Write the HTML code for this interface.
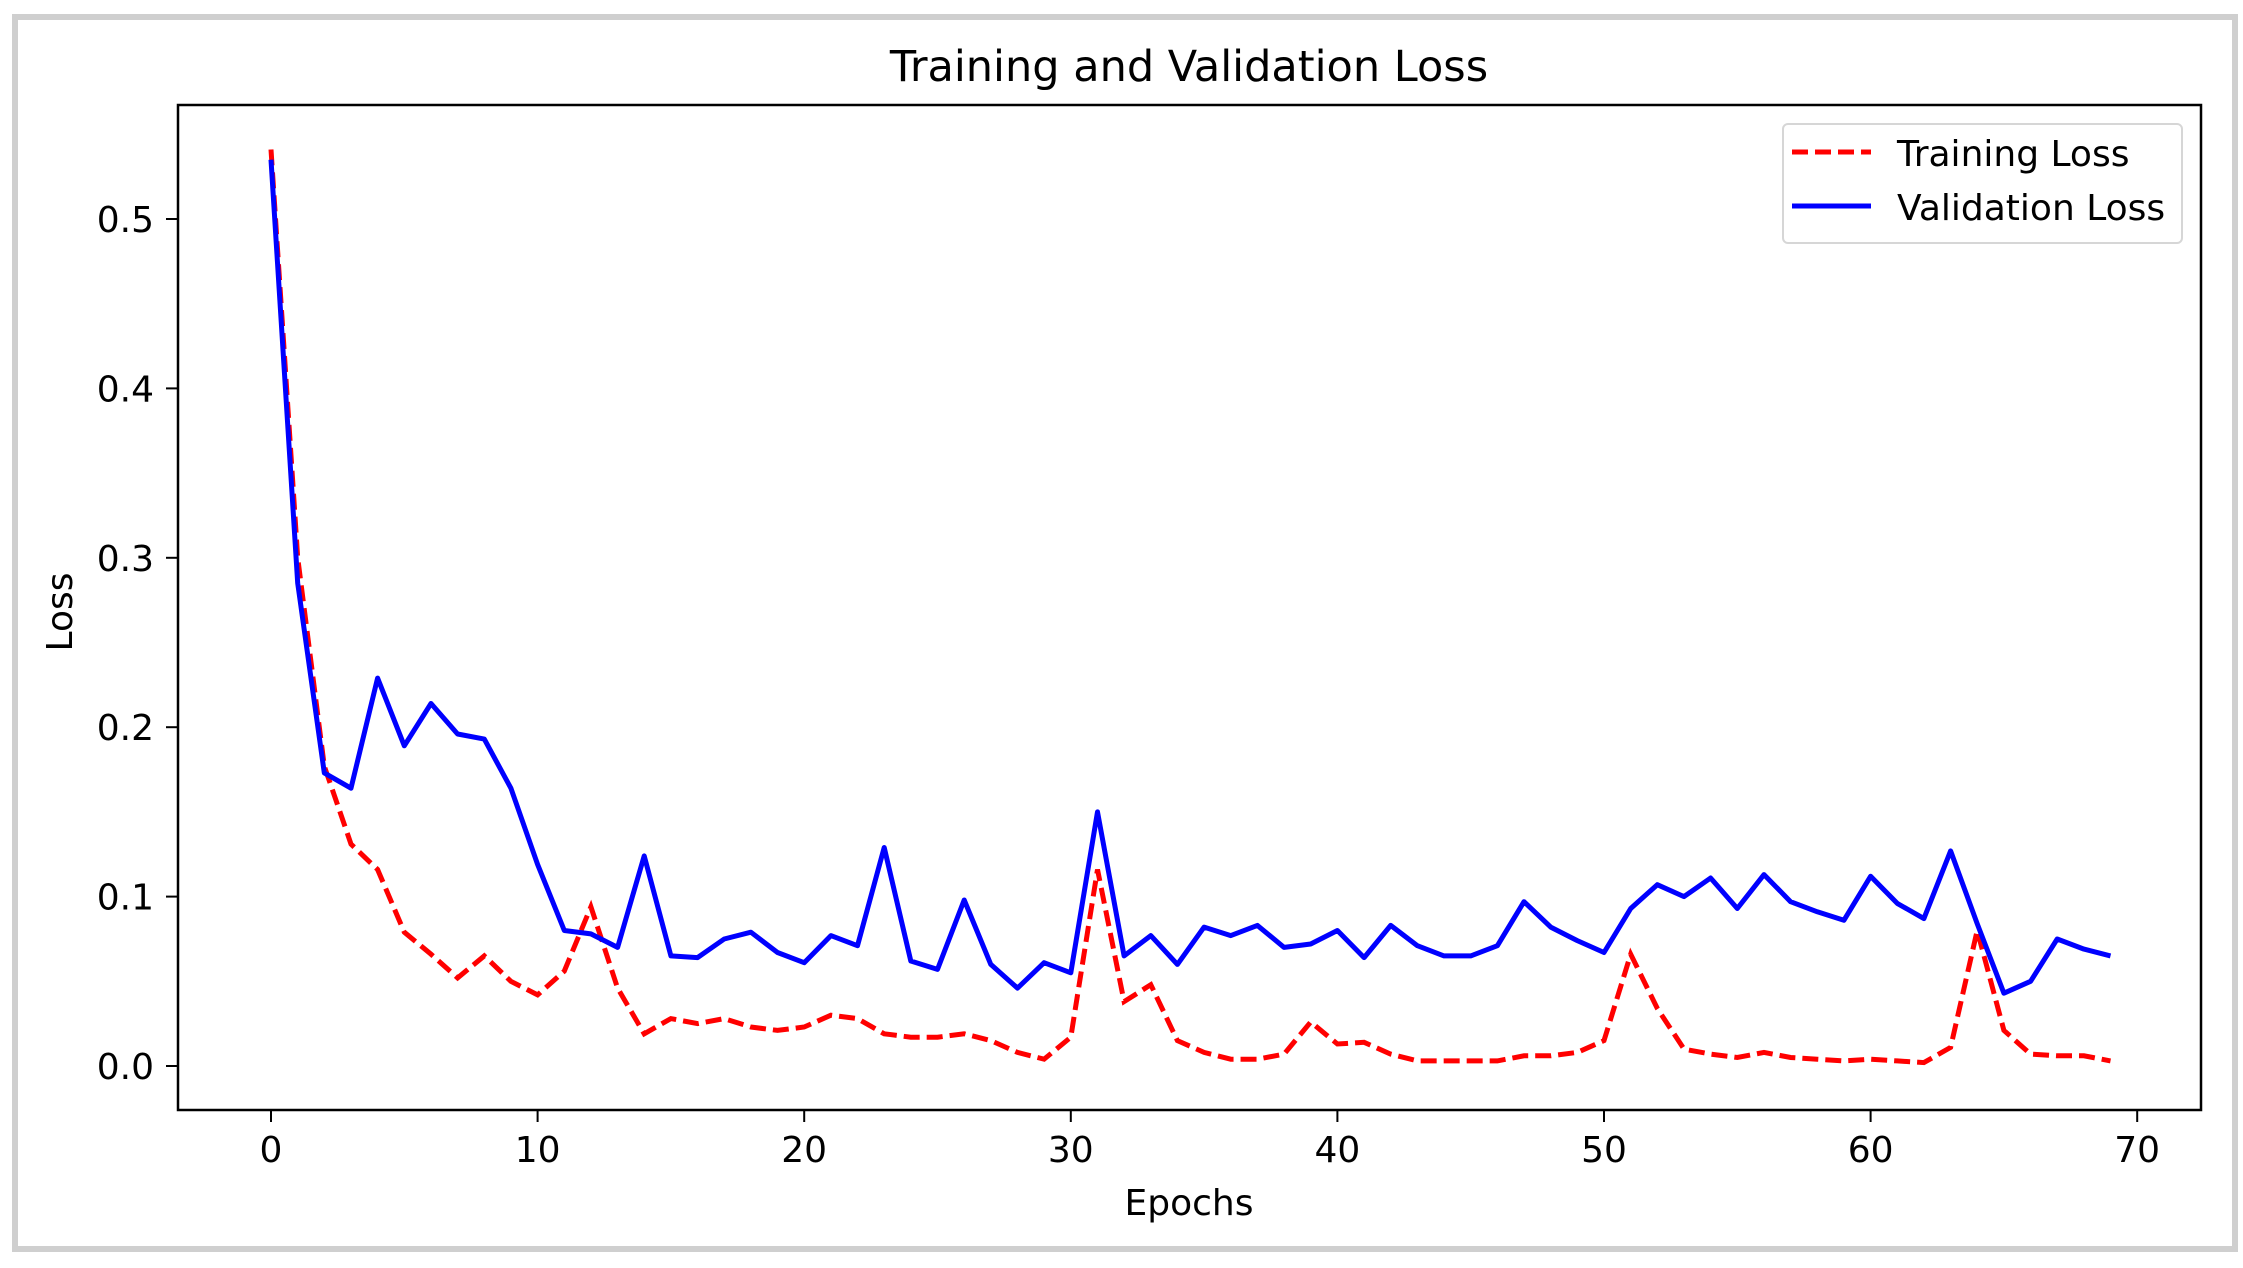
<!DOCTYPE html>
<html><head><meta charset="utf-8"><style>
html,body{margin:0;padding:0;background:#fff}
svg{display:block}
text{font-family:"DejaVu Sans","Liberation Sans",sans-serif;fill:#000}
</style></head><body>
<svg id="chart" width="2243" height="1268" viewBox="0 0 2243 1268" xmlns="http://www.w3.org/2000/svg">
<rect x="15" y="17" width="2220" height="1232" fill="#fff" stroke="#cfcfcf" stroke-width="6"/>
<text x="1189" y="81" font-size="43" text-anchor="middle">Training and Validation Loss</text>
<g id="plot"></g>
<rect x="178" y="105" width="2023" height="1005" fill="none" stroke="#000" stroke-width="2.5"/>
<text x="1189" y="1215" font-size="36" text-anchor="middle">Epochs</text>
<text transform="translate(72,612) rotate(-90)" font-size="36" text-anchor="middle">Loss</text>
<g>
<rect x="1783" y="124" width="399" height="119" rx="5" fill="#fff" fill-opacity="0.8" stroke="#d6d6d6" stroke-width="2"/>
<line x1="1792" y1="152" x2="1871" y2="152" stroke="#ff0000" stroke-width="5" stroke-dasharray="16,7"/>
<text x="1897" y="166" font-size="36">Training Loss</text>
<line x1="1792" y1="206" x2="1871" y2="206" stroke="#0000ff" stroke-width="5"/>
<text x="1897" y="220" font-size="36">Validation Loss</text>
</g>
</svg>
<script>
const trainLoss = [0.541,0.30,0.177,0.131,0.116,0.079,0.066,0.052,0.065,0.050,0.042,0.056,0.094,0.046,0.019,0.028,0.025,0.028,0.023,0.021,0.023,0.030,0.028,0.019,0.017,0.017,0.019,0.015,0.008,0.004,0.017,0.116,0.038,0.048,0.015,0.008,0.004,0.004,0.007,0.026,0.013,0.014,0.007,0.003,0.003,0.003,0.003,0.006,0.006,0.008,0.015,0.066,0.034,0.010,0.007,0.005,0.008,0.005,0.004,0.003,0.004,0.003,0.002,0.011,0.080,0.021,0.007,0.006,0.006,0.003];
const valLoss = [0.535,0.285,0.173,0.164,0.229,0.189,0.214,0.196,0.193,0.164,0.119,0.080,0.078,0.070,0.124,0.065,0.064,0.075,0.079,0.067,0.061,0.077,0.071,0.129,0.062,0.057,0.098,0.060,0.046,0.061,0.055,0.150,0.065,0.077,0.060,0.082,0.077,0.083,0.070,0.072,0.080,0.064,0.083,0.071,0.065,0.065,0.071,0.097,0.082,0.074,0.067,0.093,0.107,0.100,0.111,0.093,0.113,0.097,0.091,0.086,0.112,0.096,0.087,0.127,0.084,0.043,0.050,0.075,0.069,0.065];
const xTicks = [0,10,20,30,40,50,60,70];
const yTicks = [0.0,0.1,0.2,0.3,0.4,0.5];
const yTickLabels = ["0.0","0.1","0.2","0.3","0.4","0.5"];

const NS = "http://www.w3.org/2000/svg";
function xScale(e){ return 271 + e * 26.66; }
function yScale(v){ return 1066 - v * 1694; }
const plot = document.getElementById('plot');
function mk(tag, attrs){ const el = document.createElementNS(NS, tag); for (const k in attrs) el.setAttribute(k, attrs[k]); return el; }

xTicks.forEach(t => {
  const ln = mk('line', {x1:xScale(t), x2:xScale(t), y1:1110, y2:1122, stroke:'#000', 'stroke-width':2});
  
  
  plot.appendChild(ln);
  const tx = mk('text', {x:xScale(t), y:1162, 'font-size':36, 'text-anchor':'middle'});
  tx.textContent = String(t);
  
  
  plot.appendChild(tx);
});
yTicks.forEach((t, i) => {
  const ln = mk('line', {x1:166, x2:178, y1:yScale(t), y2:yScale(t), stroke:'#000', 'stroke-width':2});
  
  
  plot.appendChild(ln);
  const tx = mk('text', {x:154, y:yScale(t) + 13, 'font-size':36, 'text-anchor':'end'});
  tx.textContent = yTickLabels[i];
  
  
  plot.appendChild(tx);
});
function pts(arr){ return arr.map((v, i) => xScale(i).toFixed(1) + ',' + yScale(v).toFixed(1)).join(' '); }
const vl = mk('polyline', {points:pts(valLoss), fill:'none', stroke:'#0000ff', 'stroke-width':5, 'stroke-linejoin':'round'});


plot.appendChild(vl);
const tl = mk('polyline', {points:pts(trainLoss), fill:'none', stroke:'#ff0000', 'stroke-width':5, 'stroke-dasharray':'16,7'});


plot.insertBefore(tl, vl);
</script>
</body></html>
